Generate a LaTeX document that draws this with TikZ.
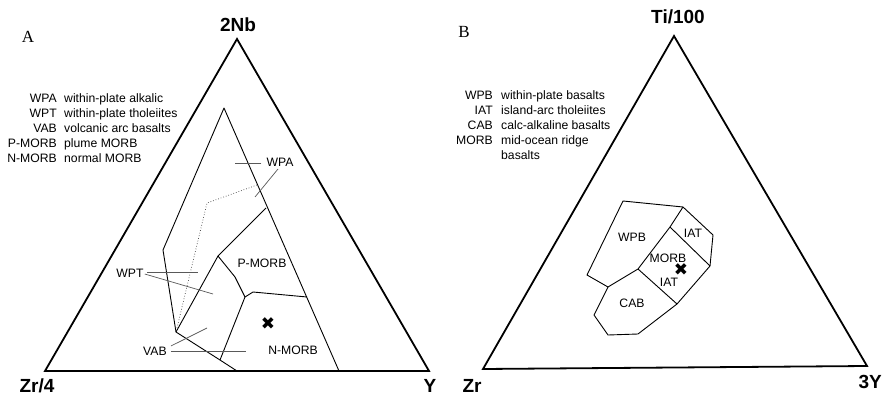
\documentclass[tikz,border=0pt]{standalone}
\usepackage{fontspec}
\setmainfont{Liberation Sans}
\newfontfamily\letterfont{Liberation Serif}
\newfontfamily\symfont{DejaVu Sans}
\begin{document}
\begin{tikzpicture}[x=1pt, y=-1pt,
  every node/.style={inner sep=0pt, font=\fontsize{12.2}{14}\selectfont},
  cornerlbl/.style={font=\fontsize{19}{22}\selectfont\bfseries},
  panellbl/.style={font=\fontsize{17}{18}\selectfont\letterfont},
  frame/.style={line width=1.8pt, line join=miter},
  field/.style={line width=0.9pt, line join=round},
  leader/.style={line width=0.7pt, black!65},
  marker/.style={font=\fontsize{17}{17}\selectfont\symfont}]
\useasboundingbox (0,0) rectangle (883,398);
\coordinate (zr4) at (45,371);
\coordinate (y) at (429,371);
\coordinate (nb) at (237,39);
\coordinate (zr) at (483,369);
\coordinate (y3) at (867,366);
\coordinate (ti) at (674,36);
\draw[frame] (zr4) -- (y) -- (nb) -- cycle;
\draw[frame] (zr) -- (y3) -- (ti) -- cycle;
\node[cornerlbl] (nblbl) at (238,25) {2Nb};
\node[cornerlbl] (zr4lbl) at (37,386) {Zr/4};
\node[cornerlbl] (ylbl) at (430,386) {Y};
\node[cornerlbl] (tilbl) at (678,17) {Ti/100};
\node[cornerlbl] (zrlbl) at (472,386) {Zr};
\node[cornerlbl, anchor=east] (y3lbl) at (882,382) {3Y};
\node[panellbl] (panela) at (28,37) {A};
\node[panellbl] (panelb) at (464,32) {B};
\node[anchor=base east] (wpa) at (57,103) {WPA};
\node[anchor=base east] (wpt) at (57,118) {WPT};
\node[anchor=base east] (vab) at (57,133) {VAB};
\node[anchor=base east] (pmorb) at (57,148) {P-MORB};
\node[anchor=base east] (nmorb) at (57,163) {N-MORB};
\node[anchor=base west] (wpatxt) at (64,103) {within-plate alkalic};
\node[anchor=base west] (wpttxt) at (64,118) {within-plate tholeiites};
\node[anchor=base west] (vabtxt) at (64,133) {volcanic arc basalts};
\node[anchor=base west] (pmorbtxt) at (64,148) {plume MORB};
\node[anchor=base west] (nmorbtxt) at (64,163) {normal MORB};
\node[anchor=base east] (wpb) at (493,100) {WPB};
\node[anchor=base east] (iat) at (493,115) {IAT};
\node[anchor=base east] (cab) at (493,130) {CAB};
\node[anchor=base east] (morb) at (493,145) {MORB};
\node[anchor=base west] (wpbtxt) at (501,100) {within-plate basalts};
\node[anchor=base west] (iattxt) at (501,115) {island-arc tholeiites};
\node[anchor=base west] (cabtxt) at (501,130) {calc-alkaline basalts};
\node[anchor=base west] (morbtxt) at (501,145) {mid-ocean ridge};
\node[anchor=base west] (morbtxtb) at (501,160) {basalts};
\coordinate (a1) at (224,108);
\coordinate (a2) at (163,250);
\coordinate (a3) at (176,332);
\coordinate (a4) at (220,360);
\coordinate (a5) at (237,371);
\coordinate (a6) at (339,371);
\coordinate (b1) at (218,256);
\coordinate (b2) at (266,208);
\coordinate (b3) at (235,277);
\coordinate (b4) at (245,297);
\coordinate (b5) at (253,292);
\coordinate (b6) at (307,297);
\draw[field] (a5) -- (a4) -- (a3) -- (a2) -- (a1) -- (a6);
\draw[field] (a3) -- (b1) -- (b2);
\draw[field] (b1) -- (b3) -- (b4) -- (a4);
\draw[field] (b4) -- (b5) -- (b6);
\draw[line width=0.7pt, dotted, black!75] (177,328) -- (207,203) -- (257,185);
\node (wpalbl) at (280,162) {WPA};
\node (pmorblbl) at (262,263) {P-MORB};
\node (nmorblbl) at (293,350) {N-MORB};
\node (wptlbl) at (130,273) {WPT};
\node (vablbl) at (155,351) {VAB};
\node[marker] (sampa) at (268,324) {✖};
\draw[leader] (wpalbl.west) ++(-5,1) -- (235,163);
\draw[leader] (278,169) -- (255,197);
\draw[leader] (wptlbl.east) ++(3,-1) -- (198,272);
\draw[leader] (wptlbl.east) ++(1,1) -- (213,294);
\draw[leader] (vablbl.east) ++(4,-5) -- (207,328);
\draw[leader] (vablbl.east) ++(4,0) -- (246,351);
\coordinate (p1) at (623,201);
\coordinate (p2) at (683,207);
\coordinate (p3) at (713,235);
\coordinate (p4) at (710,266);
\coordinate (p5) at (677,304);
\coordinate (p6) at (638,334);
\coordinate (p7) at (608,335);
\coordinate (p8) at (594,315);
\coordinate (p9) at (608,287);
\coordinate (p10) at (587,275);
\coordinate (q1) at (638,269);
\coordinate (q2) at (670,227);
\draw[field] (p1) -- (p2) -- (p3) -- (p4) -- (p5) -- (p6) -- (p7) -- (p8) -- (p9) -- (p10) -- cycle;
\draw[field] (p9) -- (q1) -- (q2) -- (p2);
\draw[field] (q1) -- (p5);
\draw[field] (q2) -- (p4);
\node (wpblbl) at (632,237) {WPB};
\node (iatlbl) at (693,233) {IAT};
\node (morblbl) at (668,258) {MORB};
\node (iatlblb) at (669,282) {IAT};
\node (cablbl) at (632,303) {CAB};
\node[marker] (sampb) at (681,270) {✖};
\end{tikzpicture}
\end{document}
